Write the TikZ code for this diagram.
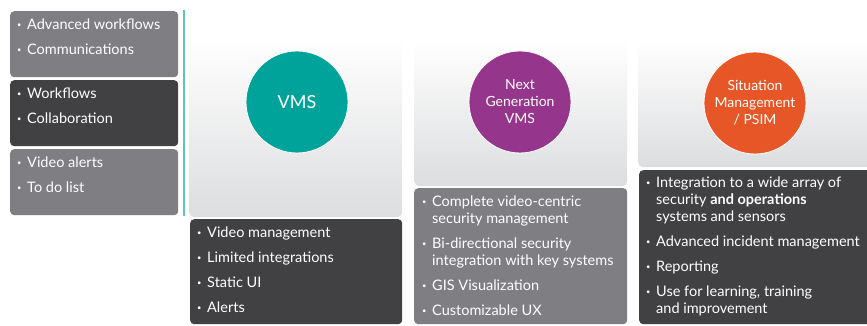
\documentclass[tikz,border=0pt]{standalone}
\usepackage{fontspec}
\setmainfont{Lato}

\definecolor{tilegrey}{HTML}{7F7F83}
\definecolor{tiledark}{HTML}{414143}
\definecolor{panelgrey}{HTML}{DCDDDF}
\definecolor{rulecyan}{HTML}{5CC5BF}
\definecolor{vmsteal}{HTML}{00A39A}
\definecolor{ngpurple}{HTML}{95358B}
\definecolor{psimorange}{HTML}{E65626}

% bullet and hanging indent for the feature lists
\newcommand\bul{\makebox[10pt][l]{\raisebox{2.4pt}{\fontsize{7.5}{8}\selectfont\textbullet}}}
\newcommand\cont{\hspace*{10pt}}

\tikzset{
  tile/.style={rounded corners=4pt, inner sep=0pt, anchor=north west},
  greytile/.style={tile, fill=tilegrey},
  darktile/.style={tile, fill=tiledark},
  panel/.style={tile, top color=white, bottom color=panelgrey, rounded corners=5pt},
  stage/.style={circle, draw=white, line width=0.8pt, minimum size=102pt, inner sep=0pt,
    align=center, text=white, font=\fontsize{14}{17}\selectfont},
  points/.style={anchor=north west, inner sep=0pt, align=left, text=white,
    font=\fontsize{14.5}{17}\selectfont},
}

\begin{document}
\begin{tikzpicture}[x=1pt,y=1pt]
  \useasboundingbox (0,0) rectangle (867,326);
  \clip (0,0) rectangle (867,326);

  % left column
  \node[greytile, minimum width=168pt, minimum height=66pt] (advtile) at (10,315) {};
  \node[darktile, minimum width=168pt, minimum height=66pt] (collabtile) at (10,246) {};
  \node[greytile, minimum width=168pt, minimum height=66pt] (alerttile) at (10,177) {};

  \node[points] (advtext) at ([shift={(7,-8)}]advtile.north west)
    {\bul Advanced workflows\\[8pt]\bul Communications};
  \node[points] (collabtext) at ([shift={(7,-8)}]collabtile.north west)
    {\bul Workflows\\[8pt]\bul Collaboration};
  \node[points] (alerttext) at ([shift={(7,-8)}]alerttile.north west)
    {\bul Video alerts\\[8pt]\bul To do list};

  \coordinate (ruletop) at (184,316);
  \coordinate (rulebot) at (184,110);
  \draw[rulecyan, line width=1.8pt] (ruletop) -- (rulebot);

  % stage panels
  \node[panel, minimum width=213pt, minimum height=179pt] (vmspanel) at (189,288) {};
  \node[panel, minimum width=213pt, minimum height=146pt] (ngpanel) at (414,286) {};
  \node[panel, minimum width=235pt, minimum height=127pt] (psimpanel) at (638,286) {};

  \node[stage, fill=vmsteal, font=\fontsize{18}{20}\selectfont] (vms) at (297,224) {VMS};
  \node[stage, fill=ngpurple] (ngvms) at (520,224) {Next\\Generation\\VMS};
  \node[stage, fill=psimorange] (psim) at (755,223) {Situation\\Management\\/ PSIM};

  % feature tiles
  \node[darktile, minimum width=212pt, minimum height=105pt] (vmsfeat) at (190,107) {};
  \node[greytile, minimum width=213pt, minimum height=136pt] (ngfeat) at (414,138) {};
  \node[darktile, minimum width=235pt, minimum height=154pt] (psimfeat) at (639,156) {};

  \node[points] (vmslist) at ([shift={(7,-8)}]vmsfeat.north west)
    {\bul Video management\\[8pt]\bul Limited integrations\\[8pt]\bul Static UI\\[8pt]\bul Alerts};
  \node[points] (nglist) at ([shift={(8,-8)}]ngfeat.north west)
    {\bul Complete video-centric\\\cont security management\\[8pt]
     \bul Bi-directional security\\\cont integration with key systems\\[8pt]
     \bul GIS Visualization\\[8pt]\bul Customizable UX};
  \node[points] (psimlist) at ([shift={(7,-7)}]psimfeat.north west)
    {\bul Integration to a wide array of\\\cont security \textbf{and operations}\\\cont systems and sensors\\[8pt]
     \bul Advanced incident management\\[8pt]\bul Reporting\\[8pt]
     \bul Use for learning, training\\\cont and improvement};
\end{tikzpicture}
\end{document}
